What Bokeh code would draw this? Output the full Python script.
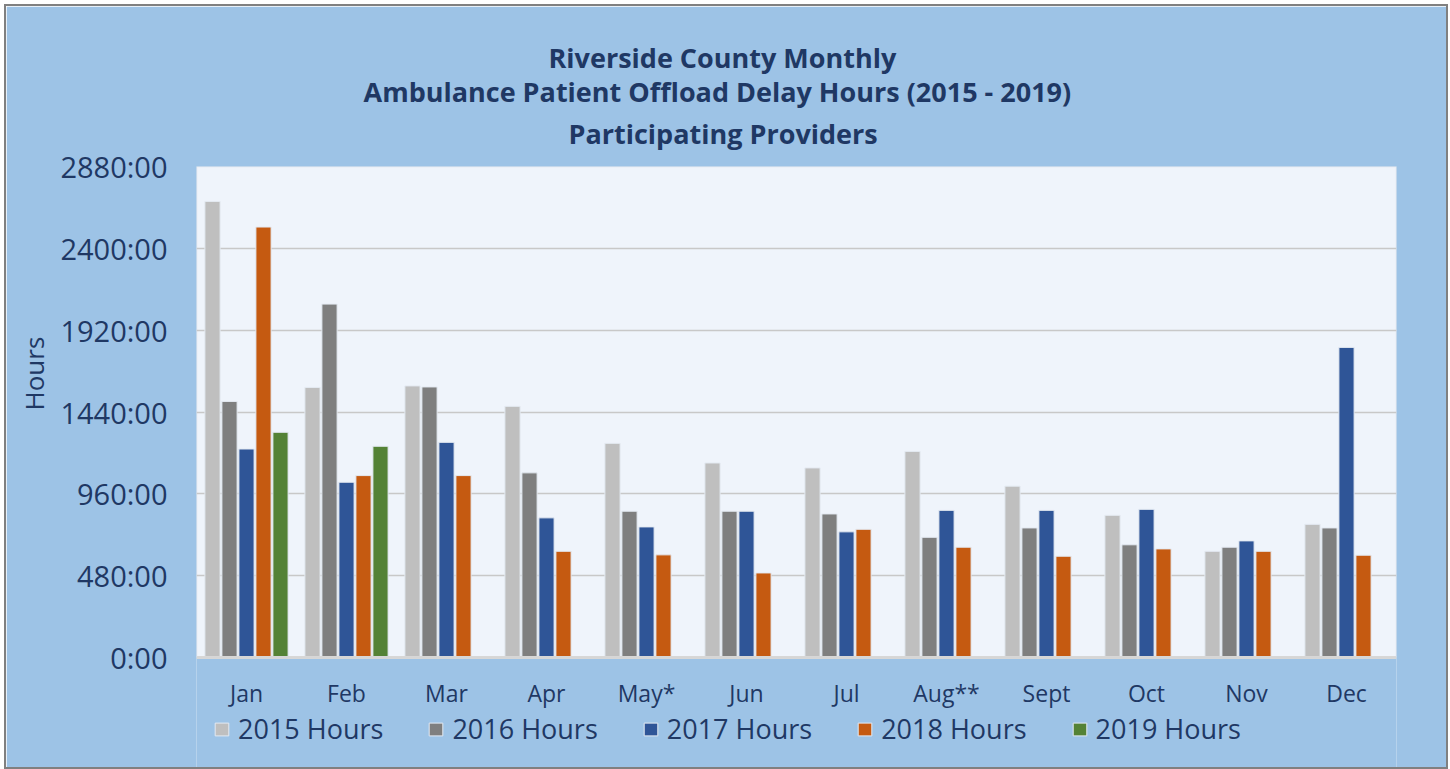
import math
from bokeh.plotting import figure
from bokeh.models import (ColumnDataSource, FactorRange, Range1d, FixedTicker,
                          Legend, LegendItem, Title, BoxAnnotation, Span)
from bokeh.core.properties import value
from bokeh.transform import dodge
from bokeh.embed import file_html
from bokeh.resources import INLINE

months = ["Jan", "Feb", "Mar", "Apr", "May*", "Jun", "Jul", "Aug**", "Sept", "Oct", "Nov", "Dec"]
hours_2015 = [2675, 1584, 1593, 1473, 1256, 1141, 1112, 1209, 1005, 834, 623, 781]
hours_2016 = [1502, 2073, 1587, 1083, 858, 858, 842, 705, 760, 661, 647, 760]
hours_2017 = [1223, 1028, 1262, 819, 766, 858, 737, 863, 863, 869, 684, 1819]
hours_2018 = [2525, 1067, 1067, 623, 602, 496, 752, 647, 594, 637, 623, 600]
hours_2019 = [1321, 1239, None, None, None, None, None, None, None, None, None, None]
series_names = ["2015 Hours", "2016 Hours", "2017 Hours", "2018 Hours", "2019 Hours"]
series_colors = ["#BFBFBF", "#7F7F7F", "#2F5597", "#C55A11", "#548235"]
y_ticks = [0, 480, 960, 1440, 1920, 2400, 2880]
y_tick_labels = ["0:00", "480:00", "960:00", "1440:00", "1920:00", "2400:00", "2880:00"]
title_lines = ["Riverside County Monthly",
               "Ambulance Patient Offload Delay Hours (2015 - 2019)",
               "Participating Providers"]
y_label = "Hours"

def clean(v):
    return [float("nan") if x is None else x for x in v]

source = ColumnDataSource(dict(
    month=months,
    s2015=hours_2015, s2016=hours_2016, s2017=hours_2017,
    s2018=hours_2018, s2019=clean(hours_2019),
))

FONT = "Open Sans"
TXT = "#1F3864"
BLUE_BG = "#9DC3E6"
PLOT_BG = "#EFF4FB"

# geometry (pixels): the frame extends below the plot area so that the
# month labels and the legend can live inside it
PLOT_H = 491          # height of the light plot area
FRAME_H = 601         # plot area + strip below it
Y_MAX = y_ticks[-1]
units_per_px = Y_MAX / PLOT_H
y_min = -(FRAME_H - PLOT_H) * units_per_px

p = figure(x_range=FactorRange(*months, range_padding=0), y_range=Range1d(y_min, Y_MAX),
           frame_width=1200, frame_height=FRAME_H, output_backend="svg", toolbar_location=None,
           min_border_left=190, min_border_top=160, min_border_right=50,
           min_border_bottom=0)
p.styles = {"border": "2px solid #808080", "margin-left": "4px", "margin-top": "4px"}
p.background_fill_color = BLUE_BG
p.border_fill_color = BLUE_BG
p.outline_line_color = None

# light plot area (below the grid lines)
p.add_layout(BoxAnnotation(bottom=0, top=Y_MAX, fill_color=PLOT_BG, fill_alpha=1,
                           line_color=None, level="image"))
# plot-area outline
p.add_layout(BoxAnnotation(bottom=0, top=Y_MAX, fill_alpha=0, line_color="#CFCFCF",
                           line_width=1.5, level="overlay"))

cols = ["s2015", "s2016", "s2017", "s2018", "s2019"]
offsets = [-0.34, -0.17, 0.0, 0.17, 0.34]
renderers = []
for col, off, color in zip(cols, offsets, series_colors):
    r = p.vbar(x=dodge("month", off, range=p.x_range), top=col, width=0.152, bottom=0,
               source=source, fill_color=color, line_color="#E4EAF2", line_width=1)
    renderers.append(r)

# baseline
p.add_layout(Span(location=0, dimension="width", line_color="#D9D9D9", line_width=3))

# y axis
p.yaxis.ticker = FixedTicker(ticks=y_ticks)
p.yaxis.major_label_overrides = {float(t): l for t, l in zip(y_ticks, y_tick_labels)}
p.yaxis.axis_line_color = None
p.yaxis.major_tick_line_color = None
p.yaxis.minor_tick_line_color = None
p.yaxis.major_label_standoff = 23
p.yaxis.major_label_text_font = FONT
p.yaxis.major_label_text_font_size = "29px"
p.yaxis.major_label_text_color = TXT

p.add_layout(Title(text=y_label, align="left", offset=357, text_font=FONT,
                   text_font_size="26px", text_font_style="normal", text_color=TXT,
                   standoff=12), "left")

# x axis labels drawn inside the strip below the plot area
p.xaxis.visible = False
label_src = ColumnDataSource(dict(month=months, y=[-35 * units_per_px] * len(months)))
p.text(x="month", y="y", text="month", source=label_src, text_align="center",
       text_baseline="middle", text_font=value(FONT), text_font_size="23px",
       text_color=TXT)

p.xgrid.grid_line_color = None
p.ygrid.ticker = FixedTicker(ticks=y_ticks[1:])
p.ygrid.grid_line_color = "#C8C8C8"
p.ygrid.grid_line_width = 1.5

# title lines, nearest the frame first (left-aligned offsets center them near x=718)
for line, so, off in zip(reversed(title_lines), [29, -23, 14], [372, 167, 352]):
    p.add_layout(Title(text=line, align="left", offset=off, text_font=FONT,
                       text_font_size="27px", text_font_style="bold", text_color=TXT,
                       standoff=so), "above")

legend = Legend(items=[LegendItem(label=n, renderers=[r]) for n, r in zip(series_names, renderers)],
                orientation="horizontal", location=(17, 20),
                label_text_font=FONT, label_text_font_size="27px", label_text_color=TXT,
                glyph_width=17, glyph_height=16, label_standoff=8, spacing=44,
                padding=0, margin=0, background_fill_alpha=0, border_line_color=None)
p.add_layout(legend, "center")

open("out.html", "w").write(file_html(p, INLINE))
